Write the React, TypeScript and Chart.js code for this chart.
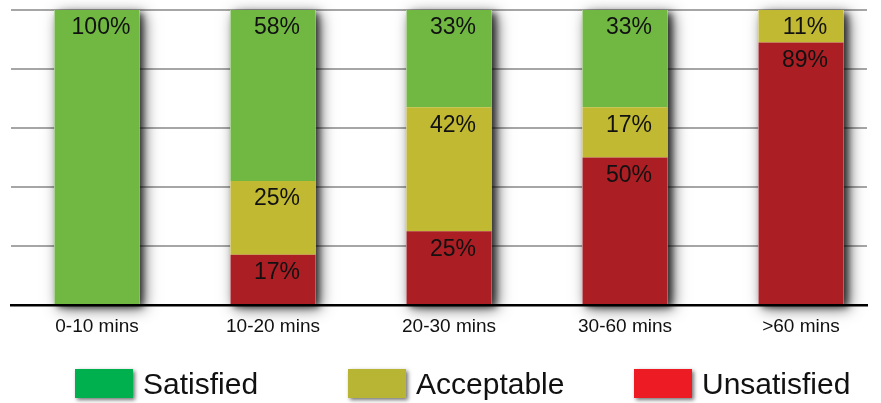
import React, { useEffect, useRef } from 'react';
import { Chart, registerables } from 'chart.js';

Chart.register(...registerables);

// Waiting-time buckets and the share of answers in each rating group (percent)
const categories = ['0-10 mins', '10-20 mins', '20-30 mins', '30-60 mins', '>60 mins'];
const unsatisfied = [0, 17, 25, 50, 89];
const acceptable = [0, 25, 42, 17, 11];
const satisfied = [100, 58, 33, 33, 0];
const yTicks = [0, 20, 40, 60, 80, 100];

const seriesNames = ['Unsatisfied', 'Acceptable', 'Satisfied'];
const barColors = ['#aa1e24', '#c1b932', '#71b843'];
const legendOrder = ['Satisfied', 'Acceptable', 'Unsatisfied'];
const legendColors = ['#00b04f', '#b8b535', '#ed1c24'];

const FONT = 'Arial, "Liberation Sans", Helvetica, sans-serif';

// Soft drop shadow behind each full stack (two passes for a deeper shade)
const stackShadow = {
  id: 'stackShadow',
  beforeDatasetsDraw(chart: any) {
    const ctx = chart.ctx;
    const metas = chart.getSortedVisibleDatasetMetas();
    const rects: number[][] = [];
    for (let i = 0; i < categories.length; i++) {
      let top = Infinity;
      let bottom = -Infinity;
      let x = 0;
      let w = 0;
      metas.forEach((m: any) => {
        const el = m.data[i];
        if (!el) return;
        const p = el.getProps(['x', 'y', 'base', 'width'], true);
        if (Math.abs(p.base - p.y) < 0.5) return;
        top = Math.min(top, p.y, p.base);
        bottom = Math.max(bottom, p.y, p.base);
        x = p.x;
        w = p.width;
      });
      if (top < bottom) rects.push([x - w / 2, top, w, bottom - top]);
    }
    ctx.save();
    ctx.fillStyle = '#ffffff';
    const passes = [
      { blur: 14, ox: 5, oy: 4, color: 'rgba(0,0,0,0.7)' },
      { blur: 6, ox: 4, oy: 3, color: 'rgba(0,0,0,0.55)' },
    ];
    passes.forEach((s) => {
      ctx.shadowColor = s.color;
      ctx.shadowBlur = s.blur;
      ctx.shadowOffsetX = s.ox;
      ctx.shadowOffsetY = s.oy;
      rects.forEach((r) => ctx.fillRect(r[0], r[1], r[2], r[3]));
    });
    ctx.restore();
  },
};

// Percentage written near the top of each segment
const segmentLabels = {
  id: 'segmentLabels',
  afterDatasetsDraw(chart: any) {
    const ctx = chart.ctx;
    ctx.save();
    ctx.font = `23px ${FONT}`;
    ctx.fillStyle = '#111111';
    ctx.textAlign = 'center';
    ctx.textBaseline = 'middle';
    chart.getSortedVisibleDatasetMetas().forEach((m: any) => {
      const values = chart.data.datasets[m.index].data;
      m.data.forEach((el: any, i: number) => {
        const v = values[i].y;
        if (!v) return;
        const p = el.getProps(['x', 'y', 'base'], true);
        ctx.fillText(`${v}%`, p.x + 4, Math.min(p.y, p.base) + 18);
      });
    });
    ctx.restore();
  },
};

// Legend row underneath the axis
const bottomLegend = {
  id: 'bottomLegend',
  afterDraw(chart: any) {
    const ctx = chart.ctx;
    const starts = [75, 348, 634];
    ctx.save();
    legendOrder.forEach((name, i) => {
      const x = starts[i];
      ctx.save();
      ctx.shadowColor = 'rgba(0,0,0,0.55)';
      ctx.shadowBlur = 4;
      ctx.shadowOffsetX = 2;
      ctx.shadowOffsetY = 2;
      ctx.fillStyle = legendColors[i];
      ctx.fillRect(x, 369, 58, 29);
      ctx.restore();
      ctx.font = `30px ${FONT}`;
      ctx.fillStyle = '#111111';
      ctx.textAlign = 'left';
      ctx.textBaseline = 'alphabetic';
      ctx.fillText(name, x + 68, 394);
    });
    ctx.restore();
  },
};

export default function App() {
  const canvasRef = useRef<HTMLCanvasElement | null>(null);

  useEffect(() => {
    if (!canvasRef.current) return;
    const series = [unsatisfied, acceptable, satisfied];
    const chart = new Chart(canvasRef.current, {
      type: 'bar',
      data: {
        datasets: series.map((vals, s) => ({
          label: seriesNames[s],
          data: vals.map((v, i) => ({ x: i, y: v })),
          backgroundColor: barColors[s],
          borderWidth: 0,
          categoryPercentage: 1,
          barPercentage: 0.483,
        })),
      },
      options: {
        responsive: false,
        animation: false,
        devicePixelRatio: 1,
        layout: { padding: { left: 11, right: 14, top: 10, bottom: 0 } },
        plugins: {
          legend: { display: false },
          tooltip: { enabled: false },
        },
        scales: {
          x: {
            type: 'linear',
            stacked: true,
            offset: false,
            min: -0.4886,
            max: 4.375,
            grid: { display: false, drawTicks: false, offset: false },
            border: { display: true, color: '#000000', width: 2.5 },
            ticks: {
              font: { family: FONT, size: 19 },
              color: '#111111',
              padding: 10,
              autoSkip: false,
              maxRotation: 0,
              callback: (v: any) => categories[v] ?? '',
            },
            afterBuildTicks: (s: any) => {
              s.ticks = categories.map((_, i) => ({ value: i }));
            },
            afterFit: (s: any) => {
              s.height = 98;
            },
          },
          y: {
            stacked: true,
            min: yTicks[0],
            max: yTicks[yTicks.length - 1],
            ticks: { display: false, stepSize: yTicks[1] - yTicks[0] },
            afterBuildTicks: (s: any) => {
              s.ticks = yTicks.map((v) => ({ value: v }));
            },
            grid: {
              color: (c: any) => (c.tick && c.tick.value === 0 ? '#000000' : '#a6a6a6'),
              lineWidth: 2,
              drawTicks: false,
            },
            border: { display: false },
            afterFit: (s: any) => {
              s.width = 0;
            },
          },
        },
      },
      plugins: [stackShadow, segmentLabels, bottomLegend],
    } as any);
    return () => chart.destroy();
  }, []);

  return (
    <canvas
      ref={canvasRef}
      width={881}
      height={403}
      style={{ position: 'absolute', left: 0, top: 0, width: 881, height: 403 }}
    />
  );
}
